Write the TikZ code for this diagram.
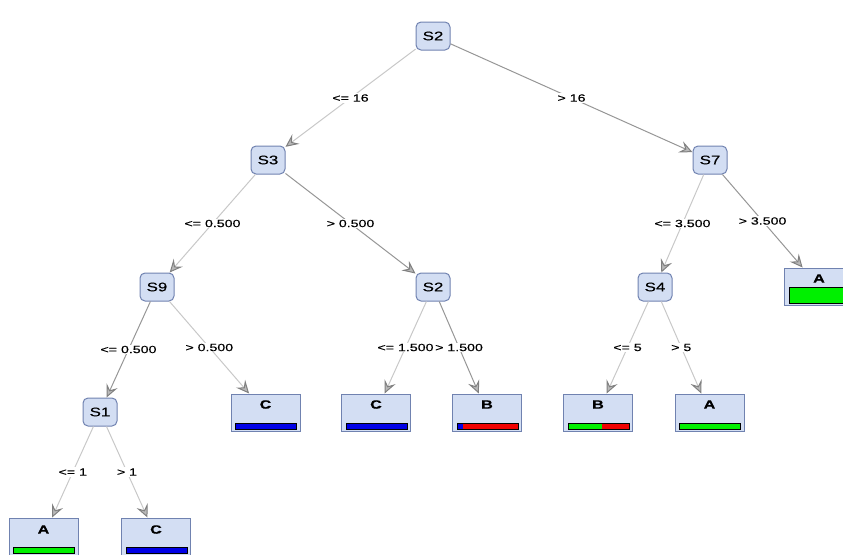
\documentclass[tikz,border=0pt]{standalone}
\usepackage{fontspec}
\setmainfont{Liberation Sans}
\newfontfamily\wekafont{Liberation Sans}[FakeStretch=1.35,FakeBold=0.4]
\usetikzlibrary{arrows.meta,calc}

\definecolor{nodefill}{RGB}{211,222,243}
\definecolor{nodeline}{RGB}{112,130,176}
\definecolor{edgelight}{RGB}{200,200,200}
\definecolor{edgedark}{RGB}{150,150,150}
\definecolor{barblue}{RGB}{0,0,230}
\definecolor{bargreen}{RGB}{0,240,0}
\definecolor{barred}{RGB}{240,0,0}

% class distribution bar at the bottom of a leaf:
% #1 leaf, #2 bar height, #3 left colour, #4 share of left colour, #5 right colour
\newcommand\leafbar[5]{%
  \path ([xshift=5pt,yshift=2pt]#1.south west) coordinate (bl)
        ([xshift=-4pt,yshift=#2]#1.south east) coordinate (tr);
  \fill[#5] (bl) rectangle (tr);
  \fill[#3] (bl) rectangle ($(bl|-tr)!#4!(tr)$);
  \draw[black,line width=1pt] (bl) rectangle (tr);
}

\tikzset{
  split/.style={draw=nodeline, fill=nodefill, line width=1pt,
    rounded corners=5pt, minimum width=34pt, minimum height=28pt,
    inner sep=0pt, font=\wekafont\fontsize{12.5}{14}\selectfont},
  leaf/.style={draw=nodeline, fill=nodefill, line width=1pt,
    minimum width=69pt, minimum height=37pt, inner sep=0pt},
  leaftext/.style={font=\wekafont\bfseries\fontsize{12}{13}\selectfont, inner sep=0pt},
  edge/.style={draw=edgelight, line width=1pt,
    -{Stealth[length=13pt,width=12pt,inset=5pt,color=gray,fill=gray!55]}},
  edgedk/.style={edge, draw=edgedark},
  lbl/.style={fill=white, inner sep=1pt, text=black,
    font=\wekafont\fontsize{10.5}{12}\selectfont},
}

\begin{document}
\begin{tikzpicture}[x=1pt,y=-1pt]
\useasboundingbox (0,0) rectangle (843,554);
\clip (0,0) rectangle (843,554);

% inner test nodes
\node[split] (n2)  at (433,36)  {S2};
\node[split] (n3)  at (268,160) {S3};
\node[split] (n7)  at (710,160) {S7};
\node[split] (n9)  at (157,287) {S9};
\node[split] (n2b) at (433,287) {S2};
\node[split] (n4)  at (655,287) {S4};
\node[split] (n1)  at (100,412) {S1};

% leaves
\node[leaf] (lA7) at (819,286.5) {};
\node[leaf] (lC9) at (265.5,412.5) {};
\node[leaf] (lCb) at (376,412.5) {};
\node[leaf] (lBb) at (487,412.5) {};
\node[leaf] (lB4) at (598,412.5) {};
\node[leaf] (lA4) at (709.5,412.5) {};
\node[leaf] (lA1) at (43.5,536.5) {};
\node[leaf] (lC1) at (156,536.5) {};

\node[leaftext] (tA7) at ([yshift=-11pt]lA7.north) {A};
\node[leaftext] (tC9) at ([yshift=-11pt]lC9.north) {C};
\node[leaftext] (tCb) at ([yshift=-11pt]lCb.north) {C};
\node[leaftext] (tBb) at ([yshift=-11pt]lBb.north) {B};
\node[leaftext] (tB4) at ([yshift=-11pt]lB4.north) {B};
\node[leaftext] (tA4) at ([yshift=-11pt]lA4.north) {A};
\node[leaftext] (tA1) at ([yshift=-12pt]lA1.north) {A};
\node[leaftext] (tC1) at ([yshift=-12pt]lC1.north) {C};

\leafbar{lA7}{18pt}{bargreen}{1}{bargreen}
\leafbar{lC9}{8pt}{barblue}{1}{barblue}
\leafbar{lCb}{8pt}{barblue}{1}{barblue}
\leafbar{lBb}{8pt}{barblue}{0.1}{barred}
\leafbar{lB4}{8pt}{bargreen}{0.56}{barred}
\leafbar{lA4}{8pt}{bargreen}{1}{bargreen}
\leafbar{lA1}{8pt}{bargreen}{1}{bargreen}
\leafbar{lC1}{8pt}{barblue}{1}{barblue}

% branches
\draw[edge]   (n2)  -- node[lbl] {<= 16} (n3);
\draw[edgedk] (n2)  -- node[lbl] {> 16} (n7);
\draw[edge]   (n3)  -- node[lbl] {<= 0.500} (n9);
\draw[edgedk] (n3)  -- node[lbl] {> 0.500} (n2b);
\draw[edge]   (n7)  -- node[lbl] {<= 3.500} (n4);
\draw[edgedk] (n7)  -- node[lbl] {> 3.500} (lA7);
\draw[edgedk] (n9)  -- node[lbl] {<= 0.500} (n1);
\draw[edge]   (n9)  -- node[lbl] {> 0.500} (lC9);
\draw[edge]   (n2b) -- node[lbl] {<= 1.500} (lCb);
\draw[edgedk] (n2b) -- node[lbl] {> 1.500} (lBb);
\draw[edge]   (n4)  -- node[lbl] {<= 5} (lB4);
\draw[edge]   (n4)  -- node[lbl] {> 5} (lA4);
\draw[edge]   (n1)  -- node[lbl] {<= 1} (lA1);
\draw[edge]   (n1)  -- node[lbl] {> 1} (lC1);
\end{tikzpicture}
\end{document}
